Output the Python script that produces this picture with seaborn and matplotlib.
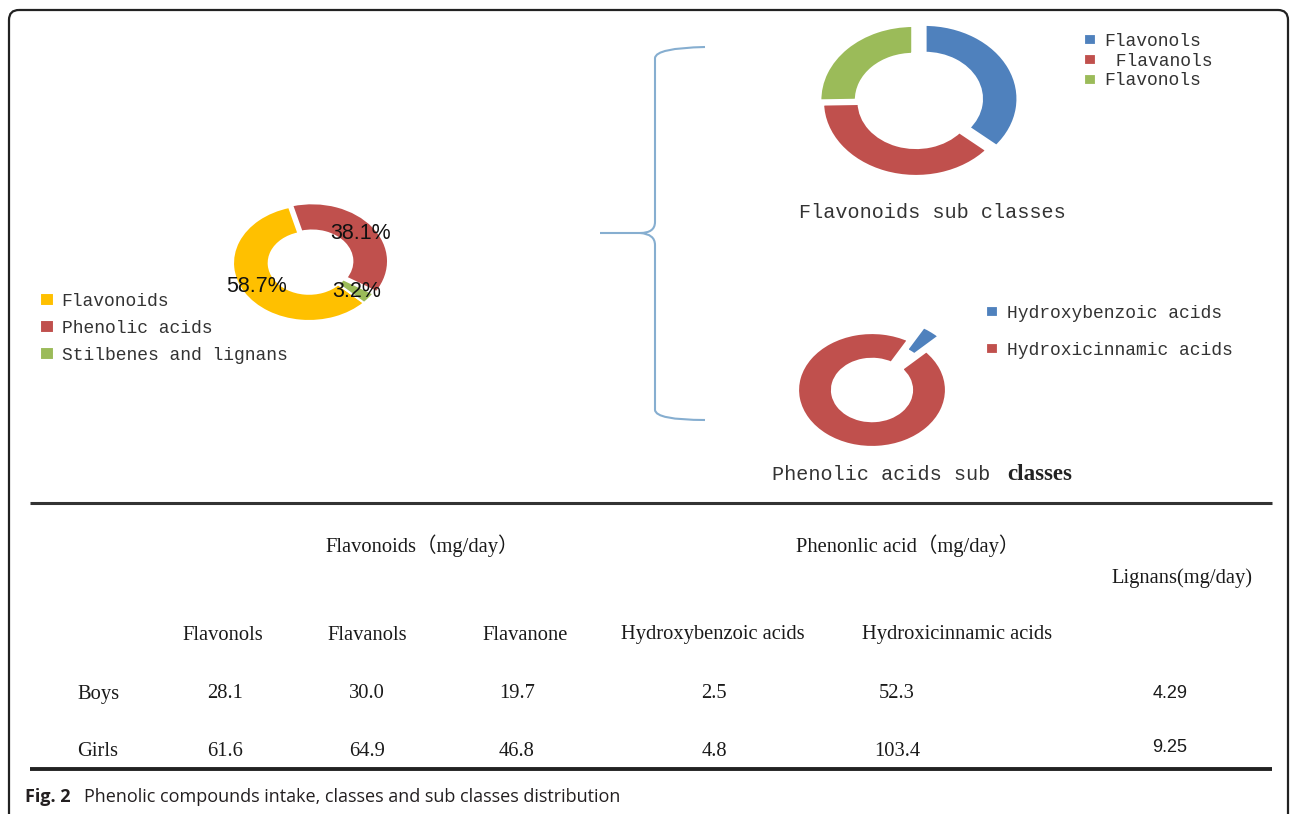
import matplotlib
matplotlib.use("Agg")
import matplotlib.pyplot as plt
import seaborn as sns
from matplotlib.patches import FancyBboxPatch, PathPatch
from matplotlib.path import Path

sns.set_theme(style="white")
plt.rcParams['font.family'] = ['Liberation Serif', 'Noto Sans CJK SC', 'DejaVu Sans']

# ---------------- data ----------------
class_labels = ["Flavonoids", "Phenolic acids", "Stilbenes and lignans"]
class_shares = [58.7, 38.1, 3.2]

flav_sub_labels = ["Flavonols", " Flavanols", "Flavonols"]
flav_sub_values = [28.1, 30.0, 19.7]

phen_sub_labels = ["Hydroxybenzoic acids", "Hydroxicinnamic acids"]
phen_sub_values = [2.5, 52.3]

table_groups = ["Flavonoids（mg/day）", "Phenonlic acid（mg/day）", "Lignans(mg/day)"]
table_columns = ["Flavonols", "Flavanols", "Flavanone",
                 "Hydroxybenzoic acids", "Hydroxicinnamic acids"]
row_labels = ["Boys", "Girls"]
boys_values = ["28.1", "30.0", "19.7", "2.5", "52.3"]
girls_values = ["61.6", "64.9", "46.8", "4.8", "103.4"]
lignans_values = ["4.29", "9.25"]

main_colors = sns.color_palette(["#FFC000", "#C0504D", "#9BBB59"])
sub_colors = sns.color_palette(["#4F81BD", "#C0504D", "#9BBB59"])

# ---------------- figure ----------------
W, H = 1290, 814
fig = plt.figure(figsize=(W / 100, H / 100), dpi=100)
fig.patch.set_facecolor("white")

ov = fig.add_axes([0, 0, 1, 1])
ov.set_xlim(0, W)
ov.set_ylim(H, 0)
ov.axis("off")

# outer rounded frame
ov.add_patch(FancyBboxPatch((9, 10), 1279, 900,
                            boxstyle="round,pad=0,rounding_size=10",
                            fill=False, lw=1.6, ec="#222222"))

# rules
ov.plot([30, 1272], [503, 503], color="#333333", lw=2.2, solid_capstyle="butt")
ov.plot([30, 1272], [769, 769], color="#222222", lw=2.8, solid_capstyle="butt")

# brace
brace_col = "#86AED0"
verts = [(705, 47), (656, 48), (655, 58), (655, 222), (655, 233), (640, 233), (600, 233),
         (640, 233), (655, 234), (655, 245), (655, 410), (656, 420), (705, 420)]
codes = [Path.MOVETO, Path.CURVE3, Path.CURVE3, Path.LINETO, Path.CURVE3, Path.CURVE3, Path.LINETO,
         Path.MOVETO, Path.CURVE3, Path.CURVE3, Path.LINETO, Path.CURVE3, Path.CURVE3]
ov.add_patch(PathPatch(Path(verts, codes), fill=False, ec=brace_col, lw=1.5))


def ring_axes(cx, cy, rx, ry, pad=1.4):
    ax = fig.add_axes([(cx - pad * rx) / W, 1 - (cy + pad * ry) / H,
                       2 * pad * rx / W, 2 * pad * ry / H])
    return ax, pad


def finish(ax, pad):
    ax.set_xlim(-pad, pad)
    ax.set_ylim(-pad, pad)
    ax.set_aspect("auto")
    ax.axis("off")


mono = dict(family="Liberation Mono", size=13)
txt_col = "#333333"
leg_kw = dict(loc="upper left", frameon=False, prop=mono, labelcolor=txt_col,
              handlelength=0.75, handleheight=0.75, handletextpad=0.45,
              borderaxespad=0, borderpad=0)

# ---- main donut ----
ax0, p0 = ring_axes(309, 263, 76, 58)
w0, _, at0 = ax0.pie(class_shares, colors=main_colors, startangle=-43.5, counterclock=False,
                     explode=[0, 0.05, 0], autopct="%.1f%%", pctdistance=0.8,
                     wedgeprops=dict(width=0.47, edgecolor="white", linewidth=1.5),
                     textprops=dict(family="Liberation Sans", size=15.5, color="#111111"))
finish(ax0, p0)
fig.legend(w0, class_labels, bbox_to_anchor=(40 / W, 1 - 293 / H), labelspacing=0.55, **leg_kw)

# ---- flavonoids sub classes ----
ax1, p1 = ring_axes(916, 102, 94, 75)
w1, _ = ax1.pie(flav_sub_values, colors=sub_colors, startangle=90, counterclock=False,
                explode=[0.1, 0, 0.04],
                wedgeprops=dict(width=0.4, edgecolor="white", linewidth=3))
finish(ax1, p1)
fig.legend(w1, flav_sub_labels, bbox_to_anchor=(1083 / W, 1 - 33 / H), labelspacing=0.15, **leg_kw)
ov.text(932, 212, "Flavonoids sub classes", ha="center", va="center",
        family="Liberation Mono", size=14.5, color=txt_col)

# ---- phenolic acids sub classes ----
ax2, p2 = ring_axes(872, 390, 75, 58)
w2, _ = ax2.pie(phen_sub_values, colors=[sub_colors[0], sub_colors[1]], startangle=60,
                counterclock=False, explode=[0.3, 0],
                wedgeprops=dict(width=0.48, edgecolor="white", linewidth=3))
finish(ax2, p2)
fig.legend(w2, phen_sub_labels, bbox_to_anchor=(985 / W, 1 - 305 / H), labelspacing=1.1, **leg_kw)
ov.text(772, 474, "Phenolic acids sub", ha="left", va="center",
        family="Liberation Mono", size=14.5, color=txt_col)
ov.text(1007, 474, "classes", ha="left", va="center",
        family="Liberation Serif", weight="bold", size=16.5, color="#222222")

# ---------------- table ----------------
serif = ["Liberation Serif", "Noto Sans CJK SC"]
tcol = "#1a1a1a"
fs = 14.8
group_pos = [(422, 546), (908, 546), (1182, 578)]
for (gx, gy), g in zip(group_pos, table_groups):
    ov.text(gx, gy, g, ha="center", va="center", family=serif, size=fs, color=tcol)

col_header_x = [223, 367, 525, 713, 957]
for x, c in zip(col_header_x, table_columns):
    ov.text(x, 635, c, ha="center", va="center", family=serif, size=fs, color=tcol)

value_x = [225, 367, 517, 714, 897]
row_y = [694, 752]
for y, lab, vals in zip(row_y, row_labels, [boys_values, girls_values]):
    ov.text(77, y, lab, ha="left", va="center", family=serif, size=fs, color=tcol)
    for x, v in zip(value_x, vals):
        ov.text(x, y, v, ha="center", va="center", family=serif, size=fs, color=tcol)

for y, v in zip([693, 747], lignans_values):
    ov.text(1170, y, v, ha="center", va="center", family="Liberation Sans", size=13, color=tcol)

# ---------------- caption ----------------
ov.text(25, 797, "Fig. 2", ha="left", va="center", family="Open Sans", weight="bold",
        size=13, color="#231F20")
ov.text(84, 797, "Phenolic compounds intake, classes and sub classes distribution",
        ha="left", va="center", family="Open Sans", size=13, color="#231F20")

fig.savefig("out.png", dpi=100)
